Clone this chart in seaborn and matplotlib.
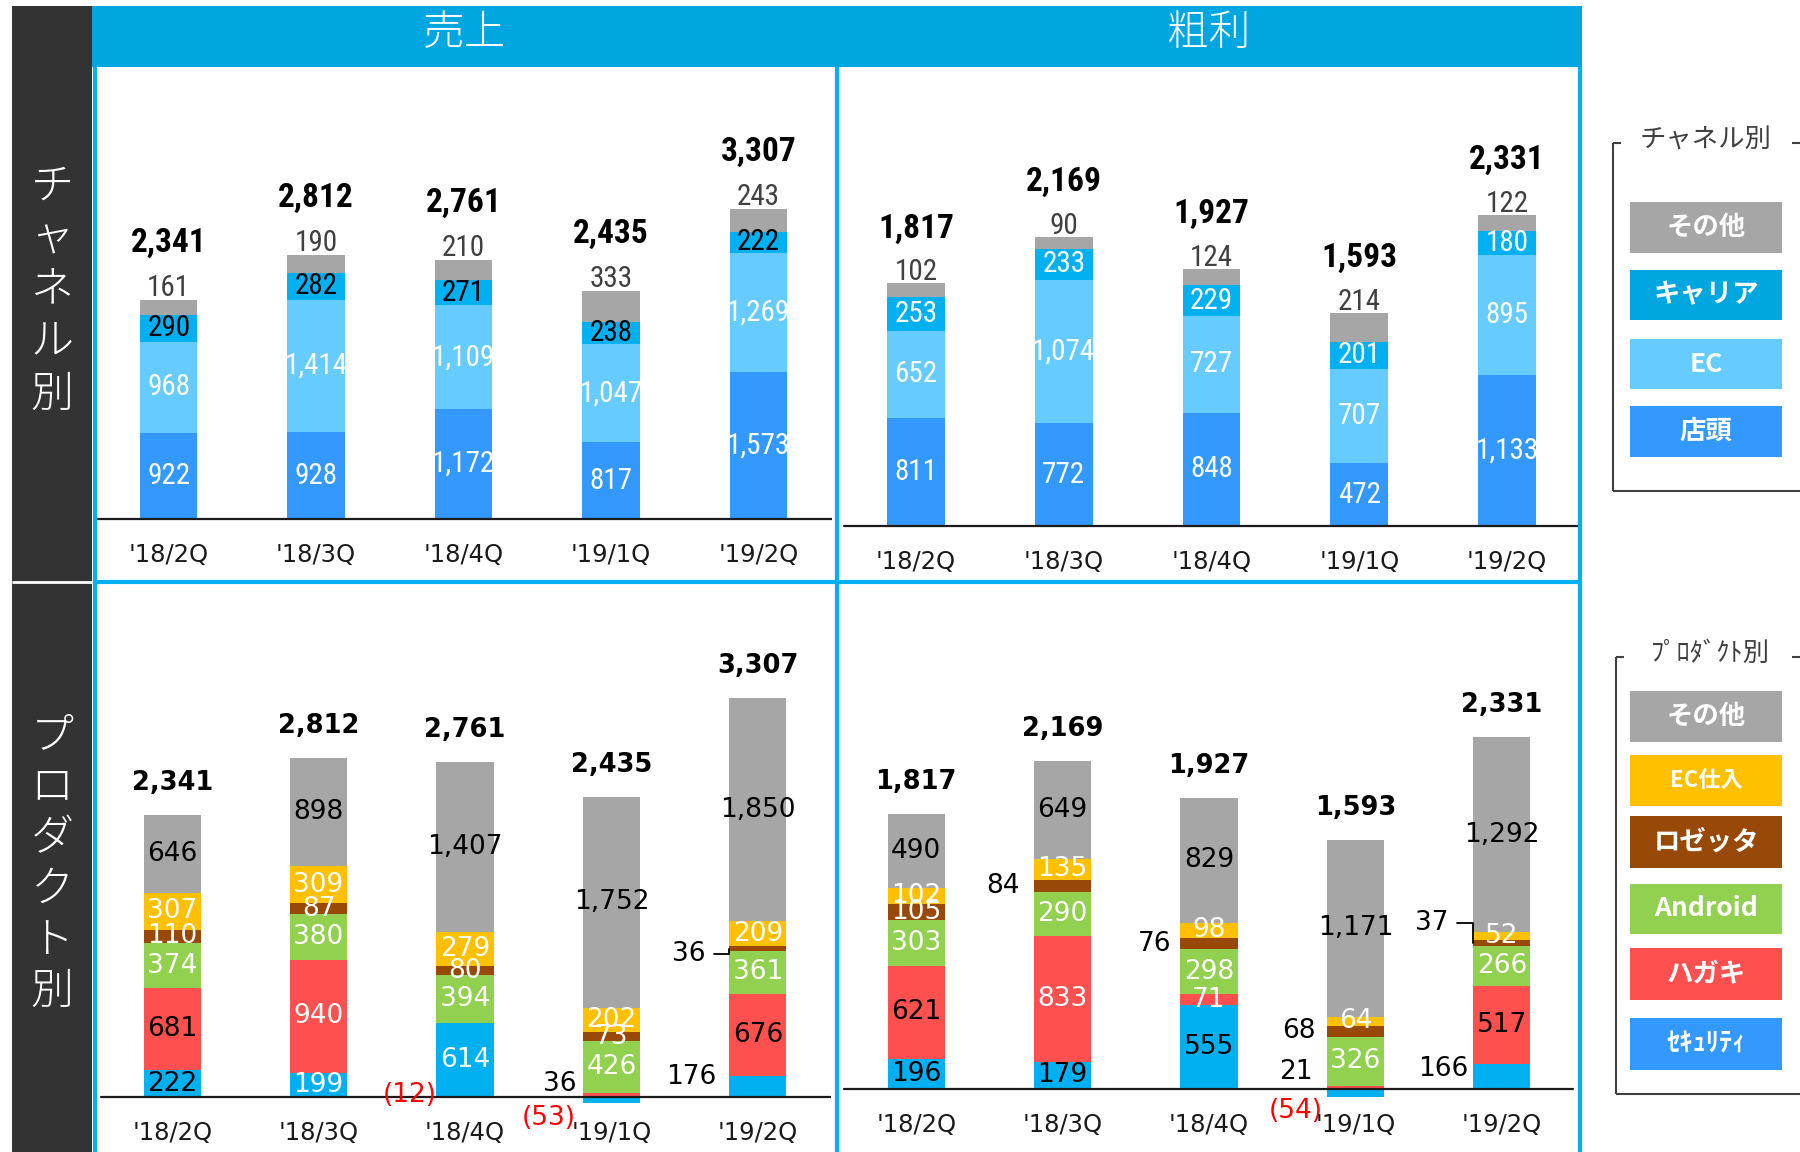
import matplotlib
matplotlib.use("Agg")
import matplotlib.pyplot as plt
import seaborn as sns
import pandas as pd
import numpy as np
from matplotlib import font_manager
from matplotlib.patches import Rectangle
from matplotlib.lines import Line2D

sns.set_theme(style="white")


def pick(cands):
    for c in cands:
        try:
            font_manager.findfont(font_manager.FontProperties(family=c), fallback_to_default=False)
            return c
        except Exception:
            pass
    return "DejaVu Sans"


NARROW = pick(["Liberation Sans Narrow", "DejaVu Sans Condensed", "Roboto Condensed", "Liberation Sans"])
JP = "Noto Sans CJK JP"
plt.rcParams["font.family"] = ["DejaVu Sans", JP]

# ---------------- data ----------------
quarters = ["'18/2Q", "'18/3Q", "'18/4Q", "'19/1Q", "'19/2Q"]
panel_titles = ["売上", "粗利"]
row_titles = ["チャネル別", "プロダクト別"]

channel_names = ["店頭", "EC", "キャリア", "その他"]
sales_store = [922, 928, 1172, 817, 1573]
sales_ec = [968, 1414, 1109, 1047, 1269]
sales_carrier = [290, 282, 271, 238, 222]
sales_ch_other = [161, 190, 210, 333, 243]
sales_total = [2341, 2812, 2761, 2435, 3307]

gp_store = [811, 772, 848, 472, 1133]
gp_ec = [652, 1074, 727, 707, 895]
gp_carrier = [253, 233, 229, 201, 180]
gp_ch_other = [102, 90, 124, 214, 122]
gp_total = [1817, 2169, 1927, 1593, 2331]

product_names = ["ｾｷｭﾘﾃｨ", "ハガキ", "Android", "ロゼッタ", "EC仕入", "その他"]
sales_security = [222, 199, 614, -53, 176]
sales_hagaki = [681, 940, -12, 36, 676]
sales_android = [374, 380, 394, 426, 361]
sales_rosetta = [110, 87, 80, 73, 36]
sales_ecbuy = [307, 309, 279, 202, 209]
sales_pr_other = [646, 898, 1407, 1752, 1850]

gp_security = [196, 179, 555, -54, 166]
gp_hagaki = [621, 833, 71, 21, 517]
gp_android = [303, 290, 298, 326, 266]
gp_rosetta = [105, 84, 76, 68, 37]
gp_ecbuy = [102, 135, 98, 64, 52]
gp_pr_other = [490, 649, 829, 1171, 1292]

# ---------------- style ----------------
C_STORE, C_EC, C_CARRIER, C_OTHER = "#3399FF", "#66CCFF", "#00B0F0", "#A6A6A6"
C_SEC, C_HAGAKI, C_ANDROID, C_ROSETTA, C_ECBUY = "#00B0F0", "#FF5050", "#92D050", "#984807", "#FFC000"
BORDER = "#00B0F0"
HEADER = "#00A6E0"
DARK = "#333333"
BAR_W = 0.39
PT = 0.72  # points per pixel at dpi 100
NUMFAM = [NARROW, "DejaVu Sans"]

W, H = 1800, 1152
fig = plt.figure(figsize=(18, 11.52), dpi=100)
fig.patch.set_facecolor("white")


def fx(x):
    return x / W


def fy(y):
    return 1 - y / H


def frect(x0, y0, x1, y1, color, z=1):
    fig.patches.append(Rectangle((fx(x0), fy(y1)), fx(x1) - fx(x0), fy(y0) - fy(y1),
                                 transform=fig.transFigure, facecolor=color, edgecolor="none", zorder=z))


def fline(xs, ys, color, lw, z=3):
    fig.lines.append(Line2D([fx(x) for x in xs], [fy(y) for y in ys], transform=fig.transFigure,
                            color=color, lw=lw, zorder=z, solid_capstyle="butt"))


def ftext(x, y, s, **kw):
    fig.text(fx(x), fy(y), s, ha="center", va="center", **kw)


def make_ax(x0, y0, x1, y1, base, ppu, line_x):
    ax = fig.add_axes([fx(x0), fy(y1), fx(x1) - fx(x0), fy(y0) - fy(y1)])
    ax.patch.set_alpha(0)
    ax._ylim = (-(y1 - base) / ppu, (base - y0) / ppu)
    ax._line = ((line_x[0] - x0) / (x1 - x0), (line_x[1] - x0) / (x1 - x0))
    return ax


def fmt(v):
    return f"({abs(v):,})" if v < 0 else f"{v:,}"


def stack(ax, layers, colors):
    n = len(quarters)
    pos = np.zeros(n)
    neg = np.zeros(n)
    centers = []
    for vals, col in zip(layers, colors):
        v = np.array(vals, dtype=float)
        bottom = np.where(v >= 0, pos, neg)
        df = pd.DataFrame({"q": quarters, "v": v})
        sns.barplot(data=df, x="q", y="v", order=quarters, bottom=bottom, color=col, saturation=1,
                    width=BAR_W, errorbar=None, linewidth=0, ax=ax)
        centers.append(bottom + v / 2)
        pos = np.where(v >= 0, pos + v, pos)
        neg = np.where(v < 0, neg + v, neg)
    return centers, pos


def finish(ax, tick_fs):
    ax.set_xlim(-0.5, len(quarters) - 0.5)
    ax.set_ylim(*ax._ylim)
    ax.axhline(0, xmin=ax._line[0], xmax=ax._line[1], color="#1a1a1a", lw=1.6)
    for i, q in enumerate(quarters):
        ax.annotate(q, xy=(i, 0), xytext=(0, -36 * PT), textcoords="offset points",
                    ha="center", va="center", fontsize=tick_fs, color="#1a1a1a")
    ax.set_axis_off()


def channel_panel(ax, store, ec, carrier, other, total, carrier_lc, off_other, off_total):
    layers = [store, ec, carrier, other]
    centers, top = stack(ax, layers, [C_STORE, C_EC, C_CARRIER, C_OTHER])
    for i in range(len(quarters)):
        for li, lc in enumerate(["white", "white", carrier_lc]):
            ax.text(i, centers[li][i], fmt(layers[li][i]), ha="center", va="center",
                    color=lc, fontsize=21, family=NUMFAM)
        ax.annotate(fmt(other[i]), xy=(i, top[i]), xytext=(0, off_other * PT), textcoords="offset points",
                    ha="center", va="center", color="#404040", fontsize=21, family=NUMFAM)
        ax.annotate(f"{total[i]:,}", xy=(i, top[i]), xytext=(0, off_total * PT), textcoords="offset points",
                    ha="center", va="center", color="black", fontsize=24, fontweight="bold", family=NUMFAM)
    finish(ax, 17.5)


def product_panel(ax, layers, total, label_colors, outside):
    centers, top = stack(ax, layers, [C_SEC, C_HAGAKI, C_ANDROID, C_ROSETTA, C_ECBUY, C_OTHER])
    for li, vals in enumerate(layers):
        for i, v in enumerate(vals):
            key = (li, i)
            if key in outside:
                dx, dy, leader = outside[key]
                col = "#FF0000" if v < 0 else "black"
                if leader:
                    ax.annotate(fmt(v), xy=(i - BAR_W / 2, centers[li][i]), xytext=(dx * PT, dy * PT),
                                textcoords="offset points", ha="right", va="center", color=col, fontsize=19,
                                arrowprops=dict(arrowstyle="-", color="black", lw=1.3, shrinkA=4, shrinkB=0,
                                                connectionstyle="angle,angleA=0,angleB=90,rad=0"))
                else:
                    ax.annotate(fmt(v), xy=(i, centers[li][i]), xytext=(dx * PT, dy * PT),
                                textcoords="offset points", ha="center", va="center", color=col, fontsize=19)
            else:
                lc = label_colors[li]
                if isinstance(lc, list):
                    lc = lc[i]
                ax.text(i, centers[li][i], fmt(v), ha="center", va="center", color=lc, fontsize=19)
    for i in range(len(quarters)):
        ax.annotate(f"{total[i]:,}", xy=(i, top[i]), xytext=(0, 32 * PT), textcoords="offset points",
                    ha="center", va="center", color="black", fontsize=18.5, fontweight="bold")
    finish(ax, 17.5)


# ---------------- panels ----------------
ax_tl = make_ax(95, 67, 832, 580, 519, 0.0937, (96, 833))
ax_tr = make_ax(842, 67, 1581, 580, 526, 0.1334, (844, 1580))
ax_bl = make_ax(99, 583, 831, 1152, 1097, 0.1206, (101, 831))
ax_br = make_ax(843, 583, 1575, 1152, 1089, 0.1511, (844, 1573))

channel_panel(ax_tl, sales_store, sales_ec, sales_carrier, sales_ch_other, sales_total, "black", 12, 57)
channel_panel(ax_tr, gp_store, gp_ec, gp_carrier, gp_ch_other, gp_total, "white", 11, 55)

sales_layers = [sales_security, sales_hagaki, sales_android, sales_rosetta, sales_ecbuy, sales_pr_other]
gp_layers = [gp_security, gp_hagaki, gp_android, gp_rosetta, gp_ecbuy, gp_pr_other]

sales_lc = [["black", "white", "white", "black", "black"],
            ["black", "white", "black", "black", "black"],
            "white", "white", "white", "black"]
gp_lc = [["black", "black", "black", "black", "black"],
         ["black", "white", "white", "black", "black"],
         "white", "white", "white", "black"]

sales_out = {(1, 2): (-55, 3, False), (1, 3): (-52, 11, False), (0, 3): (-63, -18, False),
             (0, 4): (-67, 9, False), (3, 4): (-24, -5, True)}
gp_out = {(3, 1): (-60, 0, False), (3, 2): (-54, 0, False), (3, 3): (-57, 0, False),
          (1, 3): (-60, 15, False), (0, 3): (-60, -18, False), (0, 4): (-59, 7, False),
          (3, 4): (-25, 20, True)}

product_panel(ax_bl, sales_layers, sales_total, sales_lc, sales_out)
product_panel(ax_br, gp_layers, gp_total, gp_lc, gp_out)

# ---------------- frame decorations ----------------
frect(12, 6, 92, 1152, DARK)
fline([12, 92], [582, 582], "white", 2)
frect(92, 6, 1582, 67, HEADER)
for x in (95, 837, 1580):
    fline([x, x], [67, 1152], BORDER, 3)
fline([94, 1582], [581.5, 581.5], BORDER, 3)

ftext(464, 33, panel_titles[0], color="white", fontsize=30, fontweight="light", family=[JP, "DejaVu Sans"])
ftext(1209, 33, panel_titles[1], color="white", fontsize=30, fontweight="light", family=[JP, "DejaVu Sans"])

for k, ch in enumerate(row_titles[0]):
    ftext(52, 186 + 52 * k, ch, color="white", fontsize=31, fontweight="light", family=[JP, "DejaVu Sans"])
for k, ch in enumerate(row_titles[1]):
    ftext(52, 736 + 51 * k, ch, color="white", fontsize=31, fontweight="light", family=[JP, "DejaVu Sans"])

# ---------------- legends ----------------
LG = "#404040"
fline([1613, 1613], [143, 491], LG, 1.5)
fline([1613, 1621], [143, 143], LG, 1.5)
fline([1792, 1800], [143, 143], LG, 1.5)
fline([1613, 1800], [491, 491], LG, 1.5)
ftext(1706, 140, "チャネル別", color=LG, fontsize=19, family=[JP, "DejaVu Sans"])

ch_leg = [("その他", C_OTHER, 202, 253, 19), ("キャリア", HEADER, 270, 320, 19),
          ("EC", C_EC, 339, 389, 19), ("店頭", C_STORE, 406, 457, 19)]
for name, col, y0, y1, fs in ch_leg:
    frect(1630, y0, 1782, y1, col)
    ftext(1706, (y0 + y1) / 2, name, color="white", fontsize=fs, fontweight="bold", family=[JP, "DejaVu Sans"])

fline([1616, 1616], [657, 1094], LG, 1.5)
fline([1616, 1624], [657, 657], LG, 1.5)
fline([1792, 1800], [657, 657], LG, 1.5)
fline([1616, 1800], [1094, 1094], LG, 1.5)
ftext(1710, 653, "ﾌﾟﾛﾀﾞｸﾄ別", color=LG, fontsize=19, family=[JP, "DejaVu Sans"])

pr_leg = [(product_names[5], C_OTHER, 691, 742, 19), (product_names[4], C_ECBUY, 755, 806, 16),
          (product_names[3], C_ROSETTA, 816, 868, 19), (product_names[2], C_ANDROID, 884, 934, 19),
          (product_names[1], C_HAGAKI, 948, 1000, 19), (product_names[0], C_STORE, 1018, 1070, 19)]
for name, col, y0, y1, fs in pr_leg:
    frect(1630, y0, 1782, y1, col)
    ftext(1706, (y0 + y1) / 2, name, color="white", fontsize=fs, fontweight="bold", family=[JP, "DejaVu Sans"])

fig.savefig("out.png", dpi=100, facecolor="white")
